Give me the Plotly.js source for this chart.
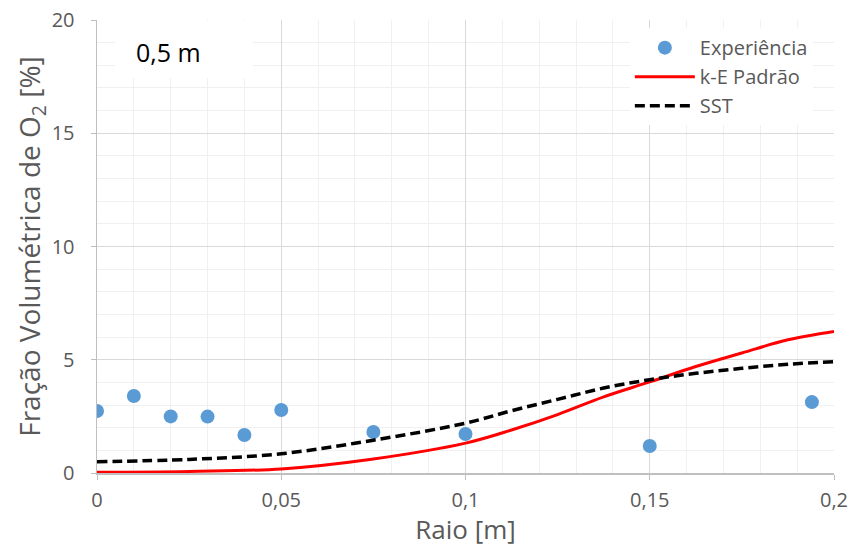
<!DOCTYPE html>
<html>
<head>
<meta charset="utf-8">
<script src="https://cdn.plot.ly/plotly-3.0.1.min.js"></script>
<style>html,body{margin:0;padding:0;background:#fff;}#chart{width:851px;height:547px;}</style>
</head>
<body>
<div id="chart"></div>
<script>
// Experimental data
const expRadius = [0, 0.01, 0.02, 0.03, 0.04, 0.05, 0.075, 0.1, 0.15, 0.194];
const expO2 = [2.74, 3.40, 2.50, 2.49, 1.68, 2.78, 1.81, 1.72, 1.19, 3.13];

// k-E Padrão model
const keRadius = [0, 0.025, 0.05, 0.075, 0.1, 0.1125, 0.125, 0.1375, 0.15, 0.1625, 0.175, 0.1875, 0.2];
const keO2 = [0.03, 0.07, 0.18, 0.62, 1.32, 1.9, 2.58, 3.36, 4.02, 4.7, 5.3, 5.88, 6.25];

// SST model
const sstRadius = [0, 0.025, 0.05, 0.075, 0.1, 0.1125, 0.125, 0.1375, 0.15, 0.1625, 0.175, 0.1875, 0.2];
const sstO2 = [0.5, 0.6, 0.85, 1.45, 2.2, 2.75, 3.25, 3.75, 4.12, 4.4, 4.62, 4.8, 4.91];

const fontFam = 'Open Sans, Noto Sans, sans-serif';
const gray = '#595959';

const traces = [
  {x: expRadius, y: expO2, name: 'Experiência', type: 'scatter', mode: 'markers',
   marker: {color: '#5b9bd5', size: 14}},
  {x: keRadius, y: keO2, name: 'k-E Padrão', type: 'scatter', mode: 'lines',
   line: {color: '#ff0000', width: 3, shape: 'spline'}},
  {x: sstRadius, y: sstO2, name: 'SST', type: 'scatter', mode: 'lines',
   line: {color: '#000000', width: 3.5, dash: '10px,5px', shape: 'spline'}}
];

const layout = {
  width: 851, height: 547,
  margin: {l: 97, r: 17, t: 20, b: 74},
  paper_bgcolor: '#ffffff', plot_bgcolor: '#ffffff',
  separators: ',.',
  font: {family: fontFam, color: gray, size: 20},
  showlegend: true,
  legend: {x: 0.723, y: 0.982, xanchor: 'left', yanchor: 'top', bgcolor: '#ffffff',
           font: {size: 20, color: gray}, tracegroupgap: 0, itemwidth: 60},
  xaxis: {
    range: [0, 0.2], dtick: 0.05, tick0: 0,
    showgrid: true, gridcolor: '#d9d9d9', gridwidth: 1,
    minor: {dtick: 0.01, showgrid: true, gridcolor: '#f0f0f0', gridwidth: 1},
    showline: true, linecolor: '#bfbfbf', linewidth: 1.5,
    ticks: 'outside', ticklen: 5, tickcolor: '#bfbfbf',
    zeroline: false, ticklabelstandoff: 3,
    tickfont: {size: 20, color: gray},
    title: {text: 'Raio [m]', font: {size: 26, color: gray}, standoff: 8}
  },
  yaxis: {
    range: [0, 20], dtick: 5, tick0: 0,
    showgrid: true, gridcolor: '#d9d9d9', gridwidth: 1,
    minor: {dtick: 1, showgrid: true, gridcolor: '#f0f0f0', gridwidth: 1},
    showline: true, linecolor: '#bfbfbf', linewidth: 1.5,
    ticks: 'outside', ticklen: 5, tickcolor: '#bfbfbf',
    zeroline: false, ticklabelstandoff: 12,
    tickfont: {size: 20, color: gray},
    title: {text: 'Fração Volumétrica de O<sub>2</sub> [%]', font: {size: 28, color: gray}, standoff: 2}
  },
  shapes: [{
    type: 'rect', xref: 'paper', yref: 'paper', layer: 'above',
    x0: (115 - 97) / 737, x1: (253 - 97) / 737, y0: (473 - 78) / 453, y1: (473 - 21) / 453,
    fillcolor: '#ffffff', line: {width: 0}
  }],
  annotations: [{
    xref: 'paper', yref: 'paper', x: (168 - 97) / 737, y: (473 - 52) / 453, xanchor: 'center', yanchor: 'middle',
    text: '0,5 m', showarrow: false,
    font: {size: 25, color: '#000000', family: fontFam}
  }]
};

Plotly.newPlot('chart', traces, layout, {displayModeBar: false, staticPlot: true});
</script>
</body>
</html>
